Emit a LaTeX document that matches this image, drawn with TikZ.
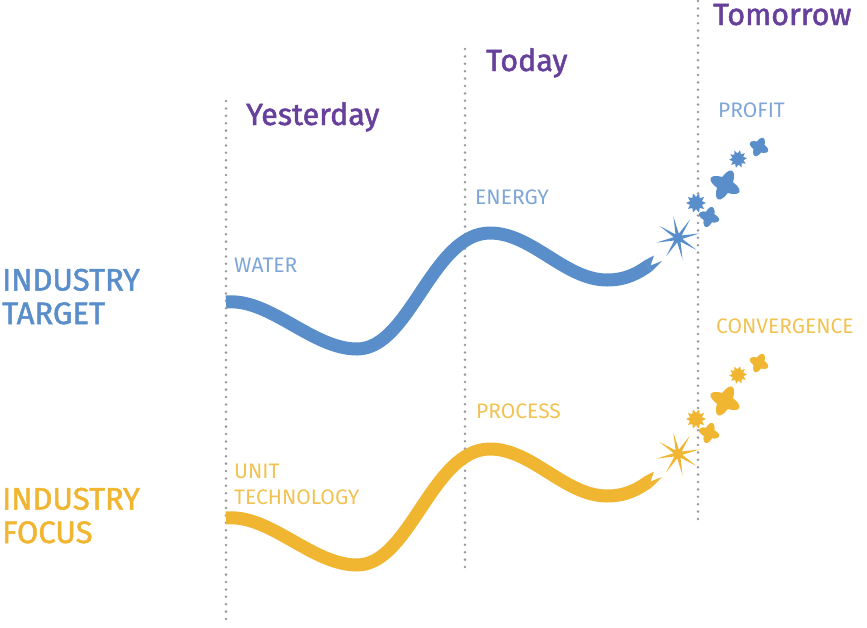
\documentclass[tikz,border=0pt]{standalone}
\usepackage{fontspec}
\setmainfont{Fira Sans}
\newfontfamily\headfont[FakeBold=1.6]{Fira Sans}
\definecolor{tblue}{HTML}{5A8ECA}
\definecolor{tyellow}{HTML}{F0B632}
\definecolor{lblue}{HTML}{7EA6D8}
\definecolor{lyellow}{HTML}{F2C253}
\definecolor{tpurple}{HTML}{66409A}
\definecolor{dotgray}{HTML}{999999}

\tikzset{
  era/.style={tpurple, font=\headfont\fontsize{30.5}{30.5}\selectfont, inner sep=0pt, anchor=base west},
  rowlabel/.style={font=\headfont\fontsize{31}{31}\selectfont, inner sep=0pt, anchor=base west},
  tag/.style={font=\fontsize{21}{21}\selectfont, inner sep=0pt, anchor=base west},
  timeline/.style={dotgray, line width=2.8pt, line cap=round, dash pattern=on 0pt off 7.4pt},
  wave/.style={line width=13pt},
}

% centre line of one wave
\newcommand\wavepath{(226,302) .. controls (270,298) and (312,349) .. (357,349)
  .. controls (410,349) and (432,233) .. (490,233)
  .. controls (532,233) and (565,280) .. (607,280)
  .. controls (626,280) and (638,273) .. (648,266)}
% centre, outer, inner, last index, step, rotation
\newcommand\sparkstar[6]{\fill[shift={#1}, rotate=#6] plot[samples at={0,...,#4}, variable=\k]
  ({\k*#5}:{ifthenelse(mod(\k,2)==0,#2,#3)}) -- cycle;}
% centre, arm, half width, rotation
\newcommand\plusmark[4]{\fill[shift={#1}, rotate=#4] (0,0) ellipse [x radius=#2, y radius=#3]
  (0,0) ellipse [x radius=#3, y radius=#2];}
\newcommand\sparkles{%
  \sparkstar{(678,238)}{22}{4.4}{15}{22.5}{12}
  \sparkstar{(696,203)}{10}{6.2}{19}{18}{0}
  \sparkstar{(738,159)}{9}{5.6}{19}{18}{5}
  \plusmark{(709,217)}{10.5}{4.8}{-18}
  \plusmark{(725,185)}{16}{6.4}{-26}
  \plusmark{(759,147)}{10}{4.6}{-25}
  \fill (644.2,260.6) -- (654,255.5) -- (650.5,265.5) -- (662,261) -- (651.8,271.4) -- cycle;}

\begin{document}
\begin{tikzpicture}[x=1pt, y=-1pt]
\useasboundingbox (0,0) rectangle (867,627);

% time lines
\coordinate (Ytop) at (226,101);
\coordinate (Ybot) at (226,626);
\coordinate (Dtop) at (465,49);
\coordinate (Dbot) at (465,572);
\coordinate (Ttop) at (698,1);
\coordinate (Tbot) at (698,524);
\draw [timeline] (Ytop) -- (Ybot);
\draw [timeline] (Dtop) -- (Dbot);
\draw [timeline] (Ttop) -- (Tbot);

\node [era] (yesterday) at (246,125) {Yesterday};
\node [era] (today) at (486,71) {Today};
\node [era] (tomorrow) at (713,25) {Tomorrow};

\node [rowlabel, tblue] (target1) at (2,290.5) {INDUSTRY};
\node [rowlabel, tblue] (target2) at (2,324) {TARGET};
\node [rowlabel, tyellow] (focus1) at (2,509.5) {INDUSTRY};
\node [rowlabel, tyellow] (focus2) at (2,543) {FOCUS};

% waves
\begin{scope}[tblue]
\draw [wave] \wavepath;
\sparkles
\end{scope}
\begin{scope}[tyellow, shift={(0,216)}]
\draw [wave] \wavepath;
\sparkles
\end{scope}

\node [tag, lblue] (water) at (234,272) {WATER};
\node [tag, lblue] (energy) at (475,204) {ENERGY};
\node [tag, lblue] (profit) at (718,117) {PROFIT};
\node [tag, lyellow] (unit) at (234,478) {UNIT};
\node [tag, lyellow] (techno) at (234,504) {TECHNOLOGY};
\node [tag, lyellow] (process) at (476,418) {PROCESS};
\node [tag, lyellow] (converge) at (716,333) {CONVERGENCE};
\end{tikzpicture}
\end{document}
